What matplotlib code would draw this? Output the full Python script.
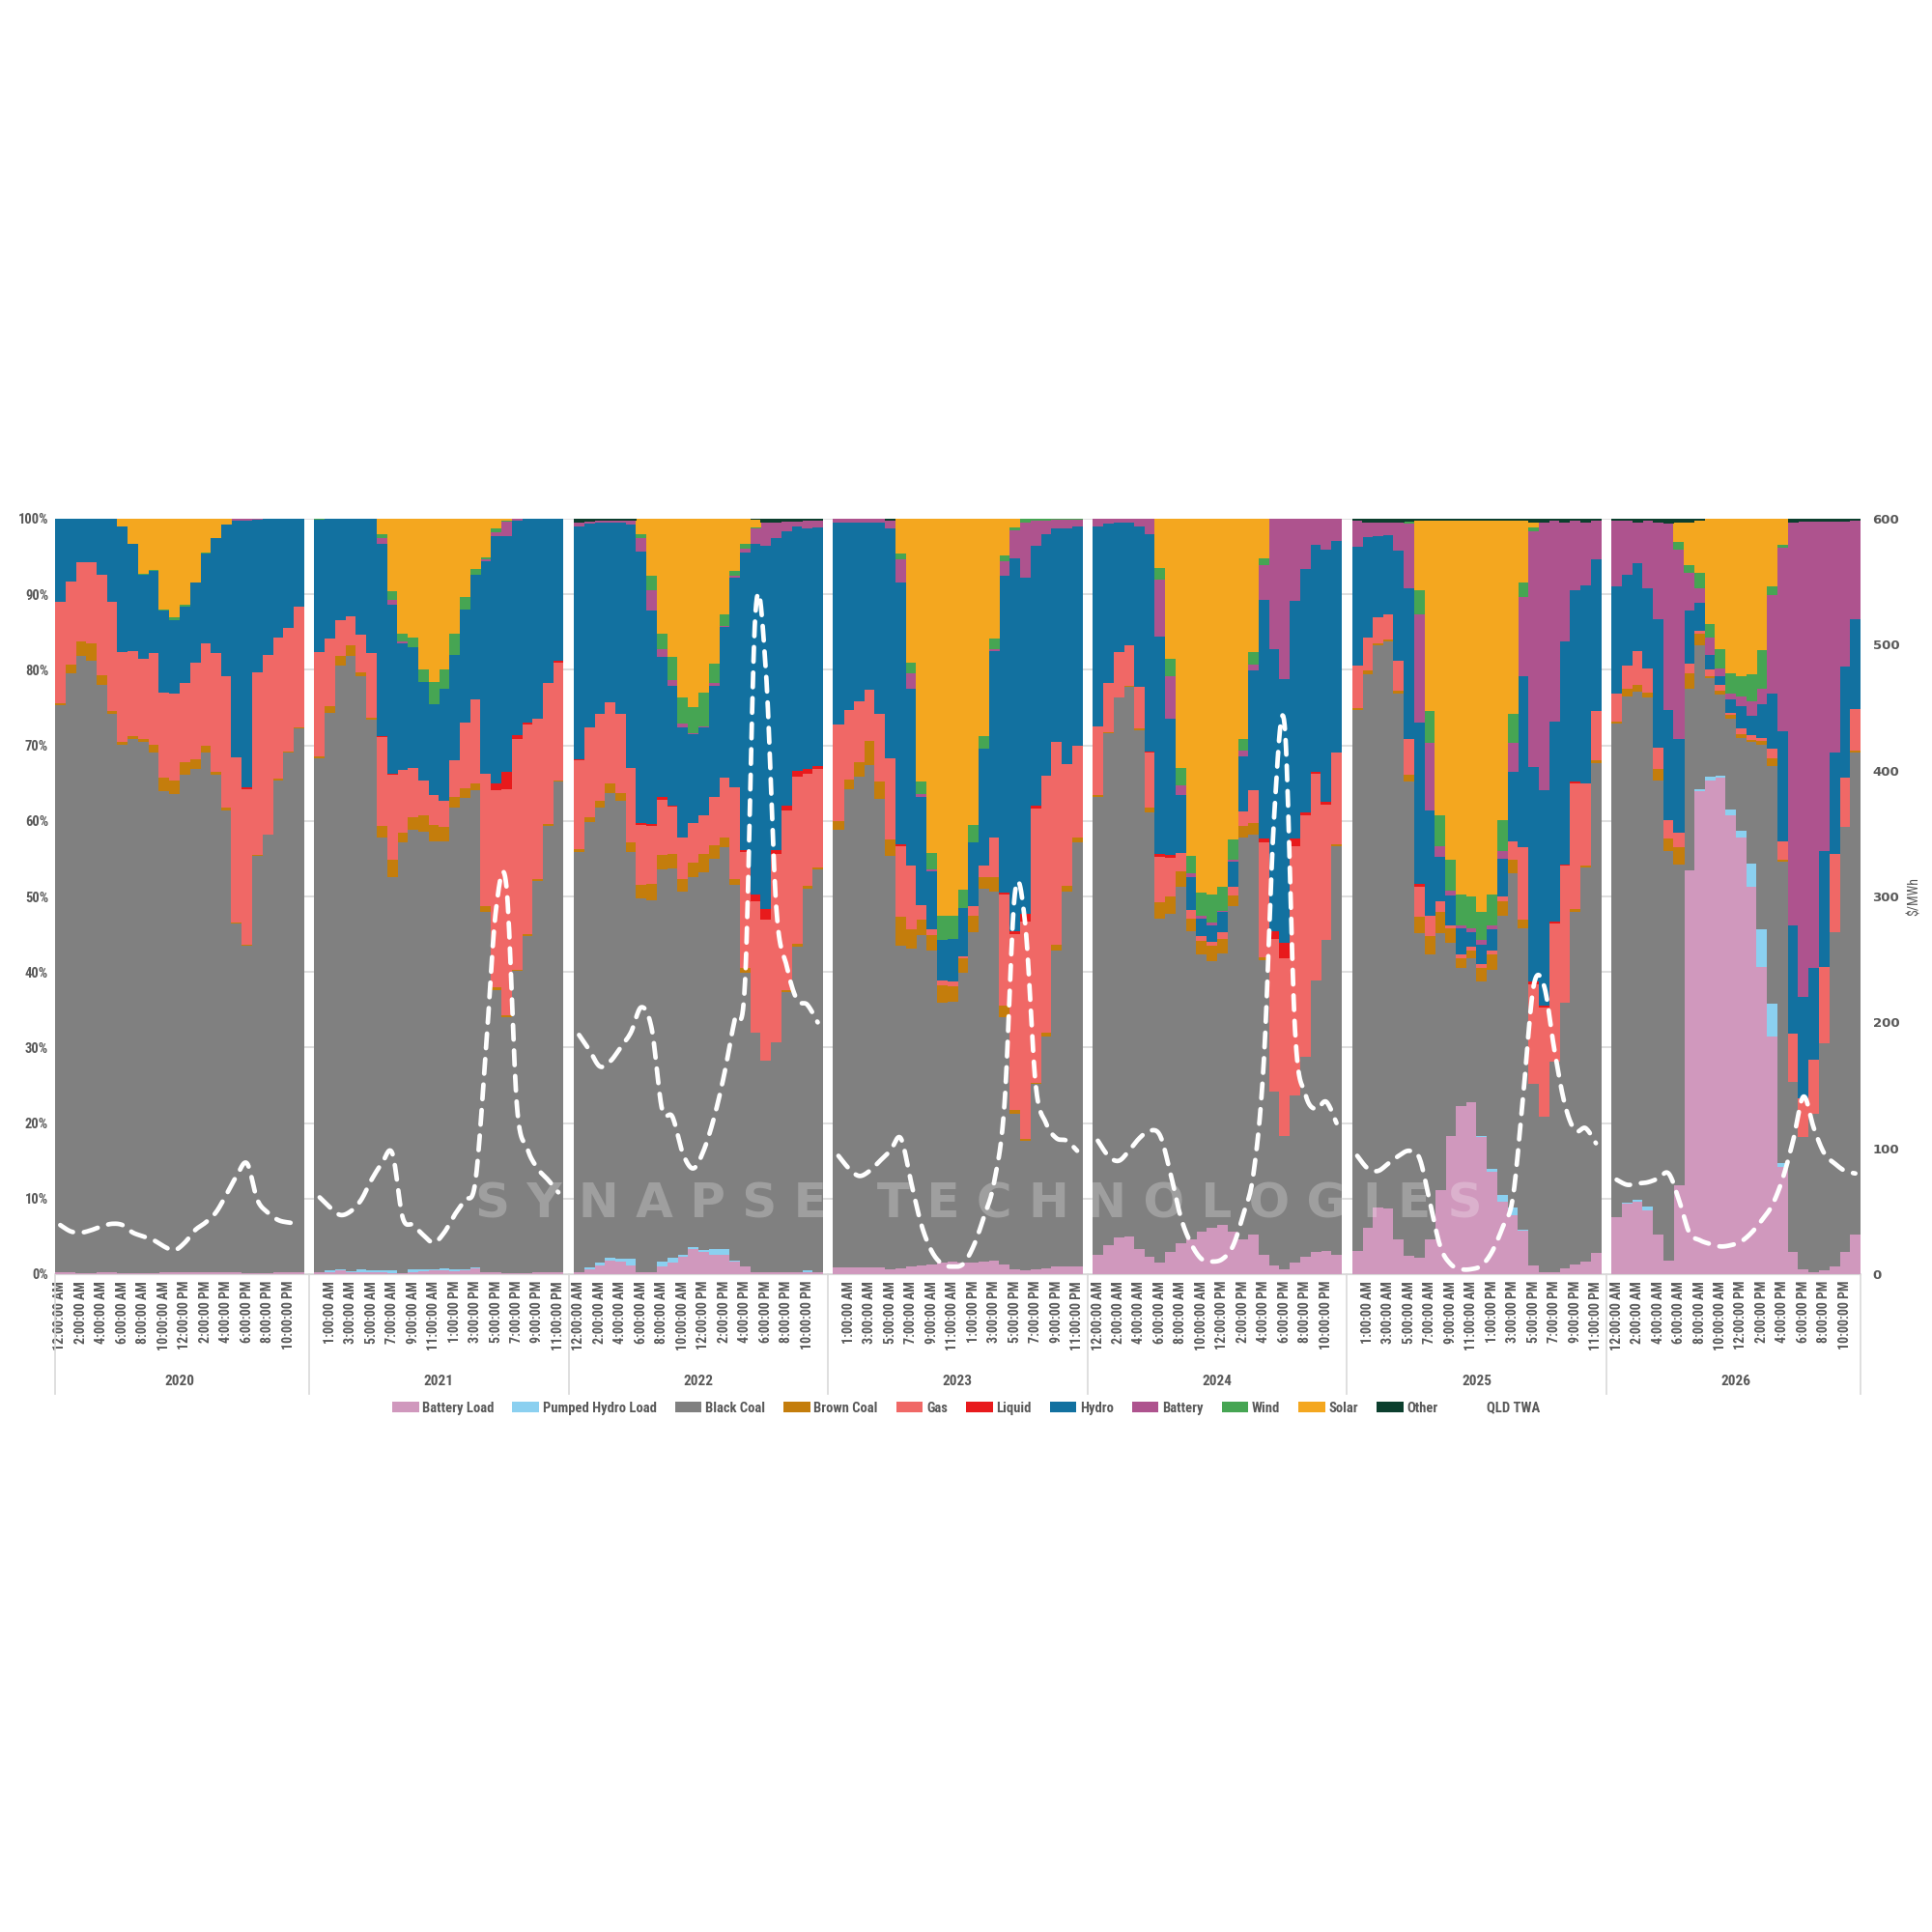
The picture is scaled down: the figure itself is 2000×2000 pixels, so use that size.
import numpy as np
import matplotlib
matplotlib.use("Agg")
import matplotlib.pyplot as plt
from matplotlib.patches import Patch
from matplotlib.lines import Line2D
from matplotlib.transforms import blended_transform_factory

plt.rcParams["font.family"] = ["Roboto Condensed", "DejaVu Sans"]

YEARS = ["2020", "2021", "2022", "2023", "2024", "2025", "2026"]
HOURS = list(range(24))

# share of generation (%) per hour, one list per year (2020 .. 2026)
battery_load = [
    [0.2, 0.2, 0.1, 0.1, 0.3, 0.2, 0.1, 0.1, 0.1, 0.1, 0.3, 0.2, 0.2, 0.2, 0.3, 0.2, 0.2, 0.2, 0.1, 0.1, 0.1, 0.2, 0.2, 0.2],
    [0.3, 0.3, 0.5, 0.3, 0.3, 0.3, 0.2, 0.1, 0.1, 0.3, 0.4, 0.5, 0.5, 0.4, 0.5, 0.8, 0.3, 0.2, 0.1, 0.1, 0.1, 0.2, 0.2, 0.2],
    [0.3, 0.7, 1.2, 1.8, 1.6, 1.1, 0.3, 0.3, 1.0, 1.5, 2.3, 3.3, 2.9, 2.6, 2.6, 1.6, 1.0, 0.3, 0.2, 0.2, 0.2, 0.3, 0.3, 0.3],
    [0.9, 0.9, 0.9, 0.9, 0.9, 0.7, 0.8, 1.0, 1.1, 1.3, 1.5, 1.6, 1.6, 1.5, 1.6, 1.8, 1.3, 0.7, 0.5, 0.7, 0.8, 1.0, 1.0, 1.0],
    [2.6, 3.9, 4.9, 5.0, 3.3, 2.3, 1.5, 2.9, 4.1, 4.6, 5.6, 6.2, 6.5, 5.6, 4.6, 5.2, 2.6, 1.1, 0.7, 1.5, 2.3, 2.9, 3.1, 2.6],
    [3.1, 6.1, 8.8, 8.7, 4.6, 2.4, 2.2, 4.6, 11.1, 18.3, 22.2, 22.7, 18.1, 13.5, 9.6, 7.8, 5.7, 1.1, 0.3, 0.3, 0.8, 1.3, 1.6, 2.8],
    [7.5, 9.3, 9.6, 8.5, 5.2, 1.8, 11.8, 53.4, 63.9, 65.4, 65.7, 60.7, 57.8, 51.3, 40.7, 31.4, 14.2, 2.9, 0.7, 0.3, 0.5, 1.0, 2.9, 5.2],
]
pumped_hydro_load = [
    [0] * 24,
    [0, 0.2, 0.1, 0.1, 0.3, 0.2, 0.3, 0.4, 0, 0.4, 0.3, 0.2, 0.3, 0.3, 0.1, 0.1, 0, 0, 0, 0, 0, 0, 0, 0],
    [0, 0.2, 0.3, 0.4, 0.5, 0.9, 0, 0, 0.7, 0.7, 0.3, 0.3, 0.3, 0.7, 0.7, 0.2, 0, 0, 0, 0, 0, 0, 0.2, 0],
    [0] * 24,
    [0] * 24,
    [0, 0, 0, 0, 0, 0, 0, 0, 0, 0, 0, 0, 0.2, 0.5, 0.9, 1.0, 0.2, 0, 0, 0, 0, 0, 0, 0],
    [0, 0.2, 0.2, 0.5, 0, 0, 0, 0.1, 0.3, 0.4, 0.3, 0.8, 0.9, 3.1, 4.9, 4.4, 0.5, 0, 0, 0, 0, 0, 0, 0],
]
black_coal = [
    [75.1, 79.4, 81.7, 81.1, 77.7, 74.0, 70.0, 70.7, 70.4, 68.9, 63.6, 63.4, 65.9, 66.8, 68.8, 65.9, 61.2, 46.2, 43.4, 55.3, 58.1, 65.2, 68.8, 72.0],
    [68.0, 73.8, 79.9, 81.4, 78.5, 72.9, 57.3, 52.0, 57.0, 58.1, 57.9, 56.6, 56.5, 61.1, 62.5, 63.2, 47.7, 37.4, 33.9, 40.1, 44.7, 51.9, 59.1, 65.0],
    [55.6, 59.0, 60.3, 61.3, 60.5, 54.0, 49.5, 49.2, 51.9, 51.5, 48.1, 49.1, 50.1, 51.7, 53.3, 49.7, 38.9, 31.7, 28.1, 30.5, 37.1, 43.2, 50.7, 53.3],
    [58.0, 63.3, 65.0, 66.5, 62.0, 54.7, 42.7, 42.1, 43.8, 41.6, 34.4, 34.5, 38.4, 43.8, 49.4, 48.9, 32.7, 20.6, 17.1, 24.6, 30.6, 41.8, 49.7, 56.1],
    [60.6, 67.7, 71.4, 72.8, 68.7, 58.8, 45.6, 44.8, 47.2, 40.8, 36.7, 35.2, 36.0, 43.1, 53.2, 53.0, 39.0, 23.1, 17.6, 22.2, 26.5, 36.0, 41.1, 54.1],
    [71.6, 73.3, 74.4, 75.0, 72.3, 62.8, 42.9, 37.7, 34.0, 25.5, 18.3, 19.1, 20.5, 26.3, 37.0, 44.3, 39.9, 24.1, 20.6, 27.8, 35.1, 46.7, 52.2, 64.8],
    [65.4, 67.0, 67.3, 67.4, 60.2, 54.2, 42.4, 24.0, 19.1, 13.1, 10.7, 12.0, 12.4, 16.0, 24.5, 31.5, 39.9, 22.6, 17.5, 20.9, 30.0, 44.3, 56.3, 63.9],
]
brown_coal = [
    [0.3, 1.1, 2.0, 2.3, 1.3, 0.4, 0.3, 0.4, 0.3, 1.1, 1.8, 1.7, 1.7, 1.2, 0.8, 0.4, 0.4, 0.2, 0.1, 0.1, 0.1, 0.2, 0.2, 0.2],
    [0.3, 0.9, 1.3, 1.5, 0.6, 0.3, 1.5, 2.4, 1.4, 1.7, 2.1, 2.2, 1.9, 1.4, 1.2, 0.8, 0.7, 0.4, 0.3, 0.1, 0.2, 0.2, 0.3, 0.2],
    [0.4, 0.7, 0.9, 1.3, 1.1, 1.2, 1.8, 2.1, 1.9, 2.0, 1.6, 1.9, 2.5, 1.8, 1.3, 0.8, 0.6, 0, 0, 0, 0.3, 0.3, 0.3, 0.3],
    [1.1, 1.3, 2.0, 3.2, 2.3, 2.2, 3.8, 2.5, 2.0, 2.0, 2.3, 2.0, 1.9, 2.1, 1.5, 1.8, 1.6, 0.4, 0.3, 0.1, 0.6, 0.8, 0.7, 0.7],
    [0.2, 0.2, 0.1, 0.1, 0.2, 0.7, 2.1, 2.4, 2.0, 1.7, 1.8, 2.1, 1.9, 1.4, 1.5, 1.5, 0.3, 0, 0, 0, 0, 0, 0, 0.2],
    [0.3, 0.5, 0.3, 0.3, 0.4, 0.9, 2.2, 2.5, 2.8, 2.0, 1.3, 1.1, 1.7, 2.0, 1.9, 1.8, 1.1, 0, 0, 0, 0, 0.4, 0.3, 0.4],
    [0.2, 1.0, 0.9, 0.7, 1.5, 1.7, 2.3, 2.0, 1.5, 0.3, 0.6, 0.6, 0.4, 0.3, 0.5, 1.0, 0.3, 0, 0, 0, 0, 0, 0, 0.2],
]
gas = [
    [13.4, 11.0, 10.4, 10.7, 13.3, 14.4, 12.0, 11.3, 10.6, 12.1, 11.3, 11.5, 10.5, 12.8, 13.6, 15.7, 17.4, 21.8, 20.7, 24.2, 23.8, 18.7, 16.3, 16.0],
    [13.8, 8.9, 4.8, 3.8, 4.9, 8.5, 11.8, 11.2, 8.2, 6.5, 4.7, 3.9, 3.5, 4.8, 8.7, 11.2, 17.6, 26.1, 29.9, 30.5, 27.7, 21.2, 18.7, 15.6],
    [11.7, 11.9, 11.5, 10.8, 10.5, 9.9, 8.0, 7.7, 7.3, 6.2, 5.5, 5.2, 5.1, 6.4, 7.9, 12.1, 15.4, 17.3, 18.6, 24.9, 23.8, 22.2, 15.0, 13.0],
    [12.8, 9.3, 8.0, 6.8, 9.0, 10.7, 9.4, 8.5, 2.0, 0.7, 0.7, 0.7, 0.3, 1.3, 1.6, 5.3, 14.7, 23.3, 28.8, 36.4, 34.0, 26.8, 16.1, 12.1],
    [9.1, 6.4, 6.0, 5.3, 5.6, 7.2, 6.0, 5.1, 2.5, 1.1, 0.7, 0.5, 0.9, 1.2, 2.0, 4.4, 15.2, 20.2, 23.5, 33.0, 31.9, 27.3, 18.0, 12.1],
    [5.5, 4.4, 3.4, 3.4, 3.9, 4.8, 4.0, 2.7, 1.4, 0.4, 0.5, 0.4, 0.5, 0.5, 0.7, 2.4, 9.6, 13.2, 14.4, 18.3, 18.2, 16.6, 10.9, 6.5],
    [3.8, 3.1, 4.5, 3.2, 2.8, 2.4, 1.9, 1.3, 0.4, 0.9, 0.7, 0.2, 0.8, 0.7, 0.4, 1.3, 2.4, 6.3, 5.1, 7.2, 10.2, 10.3, 6.5, 5.5],
]
liquid = [
    [0, 0, 0, 0, 0, 0, 0, 0, 0, 0, 0, 0, 0, 0, 0, 0, 0, 0, 0.2, 0, 0, 0, 0, 0],
    [0, 0, 0, 0, 0, 0, 0.1, 0.2, 0, 0, 0, 0, 0, 0, 0, 0, 0, 0.9, 2.3, 0.6, 0.3, 0, 0, 0.2],
    [0.2, 0, 0, 0, 0, 0, 0.2, 0.3, 0.4, 0.2, 0, 0, 0, 0, 0, 0, 0.3, 1.0, 1.5, 0.6, 0.6, 0.7, 0.6, 0.4],
    [0, 0, 0, 0, 0, 0, 0.2, 0, 0, 0, 0, 0, 0, 0, 0, 0, 0.2, 0.5, 1.0, 0.3, 0, 0, 0, 0],
    [0, 0, 0, 0, 0, 0.2, 0.4, 0.3, 0, 0, 0, 0, 0, 0, 0, 0, 0.6, 1.0, 2.1, 1.0, 0.4, 0.3, 0.3, 0],
    [0, 0, 0, 0, 0, 0, 0.3, 0, 0, 0, 0, 0, 0, 0, 0, 0, 0, 0.4, 0.3, 0.3, 0.1, 0.2, 0, 0],
    [0] * 24,
]
hydro = [
    [11.0, 8.3, 5.8, 5.8, 7.4, 11.0, 16.6, 14.2, 11.2, 10.9, 10.8, 9.8, 10.1, 10.6, 11.9, 15.2, 20.0, 31.4, 35.3, 20.3, 18.0, 15.7, 14.5, 11.6],
    [17.5, 15.9, 13.4, 12.9, 15.4, 17.8, 25.5, 22.3, 16.8, 16.0, 13.0, 12.1, 14.8, 14.0, 15.0, 16.5, 28.1, 32.7, 31.3, 28.3, 27.0, 26.5, 21.7, 18.8],
    [30.8, 26.9, 25.3, 23.7, 25.3, 32.2, 36.0, 28.3, 18.6, 15.8, 14.6, 11.8, 11.6, 14.7, 19.9, 27.8, 39.3, 46.4, 48.0, 41.2, 36.4, 32.5, 31.9, 31.6],
    [26.8, 24.8, 23.7, 22.2, 25.3, 30.4, 34.6, 23.4, 14.3, 7.7, 5.3, 5.6, 6.4, 8.5, 15.5, 24.7, 41.9, 49.4, 44.5, 34.5, 32.0, 28.3, 31.2, 29.1],
    [26.5, 21.1, 17.1, 16.3, 21.2, 28.8, 28.8, 18.1, 7.6, 4.4, 2.3, 2.2, 2.6, 3.3, 7.3, 15.8, 31.5, 37.3, 34.9, 31.4, 32.2, 30.1, 33.4, 28.1],
    [15.8, 13.3, 10.8, 10.4, 14.6, 19.9, 21.4, 13.9, 5.9, 3.9, 3.5, 2.0, 2.6, 2.8, 4.9, 9.2, 22.7, 28.3, 28.5, 26.5, 29.5, 25.3, 26.2, 20.1],
    [14.1, 12.0, 11.6, 10.6, 17.0, 14.6, 12.4, 7.1, 3.7, 1.9, 1.1, 1.8, 3.0, 2.5, 4.5, 7.3, 14.6, 14.4, 13.4, 12.1, 15.3, 13.5, 14.7, 11.9],
]
battery = [
    [0, 0, 0, 0, 0, 0, 0, 0, 0, 0, 0, 0, 0, 0, 0, 0, 0, 0.2, 0.3, 0.1, 0, 0, 0, 0],
    [0, 0, 0, 0, 0, 0, 0.7, 0.7, 0.2, 0, 0, 0, 0, 0, 0, 0, 0.2, 0.5, 1.9, 0.3, 0, 0, 0, 0],
    [0.5, 0.3, 0.3, 0.3, 0.3, 0.6, 1.8, 2.6, 1.0, 0.8, 0.5, 0.2, 0.2, 0.4, 0.2, 0.2, 0.5, 2.0, 3.1, 2.1, 1.2, 0.6, 1.0, 0.9],
    [0.5, 0.5, 0.5, 0.5, 0.5, 1.1, 3.1, 2.1, 0.4, 0.3, 0, 0, 0, 0, 0, 0.2, 2.0, 3.7, 7.3, 3.3, 1.8, 1.2, 1.2, 0.9],
    [1.0, 0.7, 0.5, 0.5, 1.0, 2.0, 7.5, 5.6, 1.3, 0.5, 0.3, 0.3, 0.2, 0.3, 0.7, 0.8, 4.7, 17.3, 21.2, 10.9, 6.7, 3.4, 4.1, 2.9],
    [3.4, 1.9, 1.8, 1.7, 3.7, 8.5, 14.3, 8.9, 1.5, 0.7, 0.3, 0.5, 0.6, 0.5, 1.1, 3.8, 10.5, 31.3, 35.4, 26.5, 15.8, 9.2, 8.3, 5.1],
    [8.7, 7.1, 5.4, 8.9, 12.8, 24.6, 25.1, 4.9, 1.9, 2.3, 1.1, 0.8, 1.3, 1.9, 2.0, 13.0, 24.2, 53.3, 63.0, 59.1, 43.6, 30.5, 19.2, 13.0],
]
wind = [
    [0, 0, 0, 0, 0, 0, 0, 0, 0.1, 0.1, 0.2, 0.3, 0.2, 0.1, 0.1, 0, 0, 0, 0, 0, 0, 0, 0, 0],
    [0.1, 0, 0, 0, 0, 0, 0.6, 1.1, 1.1, 1.3, 1.7, 2.9, 2.6, 2.8, 1.7, 0.7, 0.3, 0.5, 0.1, 0, 0, 0, 0, 0],
    [0, 0, 0, 0, 0, 0, 0.6, 2.0, 2.1, 3.1, 3.4, 3.4, 4.4, 2.6, 1.5, 0.7, 0.7, 0.2, 0, 0, 0, 0, 0, 0],
    [0, 0, 0, 0, 0, 0, 0.8, 1.4, 1.6, 2.1, 3.3, 3.1, 2.4, 2.3, 1.6, 1.4, 0.8, 0.4, 0.5, 0.3, 0.2, 0.1, 0.1, 0.1],
    [0, 0, 0, 0, 0, 0, 1.6, 2.3, 2.3, 2.3, 3.1, 3.8, 3.2, 2.6, 1.6, 1.7, 0.9, 0, 0, 0, 0, 0, 0, 0],
    [0, 0, 0, 0, 0, 0.3, 3.2, 4.2, 4.1, 4.0, 4.2, 4.2, 3.8, 4.2, 4.1, 3.9, 1.8, 0.5, 0, 0, 0, 0, 0, 0],
    [0, 0, 0, 0, 0, 0, 1.0, 1.0, 2.0, 1.8, 2.6, 2.6, 2.6, 3.6, 5.1, 1.1, 0.5, 0, 0, 0, 0, 0, 0, 0],
]
solar = [
    [0, 0, 0, 0, 0, 0, 1.0, 3.3, 7.3, 6.8, 12.0, 13.1, 11.4, 8.4, 4.5, 2.6, 0.8, 0, 0, 0, 0, 0, 0, 0],
    [0, 0, 0, 0, 0, 0, 2.0, 9.6, 15.2, 15.7, 19.9, 21.6, 19.9, 15.2, 10.3, 6.7, 5.1, 1.3, 0.3, 0, 0, 0, 0, 0],
    [0, 0, 0, 0, 0, 0, 2.0, 7.5, 15.2, 18.3, 23.7, 25.0, 23.1, 19.2, 12.7, 6.9, 3.3, 1.0, 0, 0, 0, 0, 0, 0],
    [0, 0, 0, 0, 0, 0, 4.6, 19.0, 34.8, 44.3, 52.5, 52.5, 49.2, 40.5, 28.8, 15.9, 4.8, 1.1, 0, 0, 0, 0, 0, 0],
    [0, 0, 0, 0, 0, 0, 6.5, 18.6, 33.0, 44.6, 49.5, 49.7, 48.7, 42.5, 29.1, 17.6, 5.2, 0, 0, 0, 0, 0, 0, 0],
    [0, 0, 0, 0, 0, 0, 9.2, 25.2, 39.0, 45.0, 49.5, 49.8, 51.8, 49.5, 39.7, 25.6, 8.2, 0.6, 0, 0, 0, 0, 0, 0],
    [0, 0, 0, 0, 0, 0, 2.6, 5.7, 7.0, 13.9, 17.2, 20.5, 20.9, 20.6, 17.4, 9.0, 3.4, 0, 0, 0, 0, 0, 0, 0],
]
other = [
    [0] * 24,
    [0] * 24,
    [0.5, 0.4, 0.2, 0.2, 0.2, 0.2, 0, 0, 0, 0, 0, 0, 0, 0, 0, 0, 0, 0.1, 0.5, 0.5, 0.4, 0.4, 0.3, 0.3],
    [0, 0, 0, 0, 0, 0.2, 0, 0, 0, 0, 0, 0, 0, 0, 0, 0, 0, 0, 0, 0, 0, 0, 0, 0],
    [0] * 24,
    [0.3, 0.5, 0.5, 0.5, 0.5, 0.4, 0.3, 0.3, 0.2, 0.2, 0.2, 0.2, 0.2, 0.2, 0.2, 0.2, 0.3, 0.5, 0.5, 0.3, 0.5, 0.3, 0.5, 0.3],
    [0.3, 0.3, 0.5, 0.3, 0.5, 0.7, 0.5, 0.5, 0.2, 0, 0, 0, 0, 0, 0, 0, 0, 0.5, 0.4, 0.4, 0.4, 0.4, 0.4, 0.3],
]

# QLD time-weighted average price, $/MWh
qld_twa = [
    [39, 34, 33, 35, 38, 40, 39, 33, 30, 27, 22, 19, 25, 35, 41, 49, 63, 78, 88, 59, 49, 43, 41, 40],
    [61, 53, 47, 50, 59, 75, 88, 96, 45, 39, 31, 25, 33, 47, 59, 73, 175, 290, 308, 135, 100, 84, 75, 65],
    [190, 178, 165, 169, 180, 192, 212, 195, 131, 125, 96, 84, 98, 124, 159, 202, 233, 525, 480, 292, 245, 218, 214, 200],
    [94, 84, 78, 82, 90, 98, 108, 73, 39, 18, 8, 6, 8, 22, 45, 73, 135, 302, 278, 151, 120, 108, 106, 98],
    [106, 94, 90, 98, 108, 114, 110, 80, 45, 24, 12, 10, 12, 22, 47, 80, 170, 365, 436, 194, 143, 131, 137, 120],
    [94, 84, 82, 88, 94, 98, 92, 57, 22, 8, 4, 4, 7, 18, 37, 61, 143, 229, 229, 178, 135, 114, 116, 104],
    [75, 71, 72, 73, 76, 80, 59, 33, 27, 24, 22, 23, 26, 33, 43, 55, 76, 106, 141, 116, 96, 88, 82, 80],
]

SERIES = [
    ("Battery Load", battery_load, "#D098BD"),
    ("Pumped Hydro Load", pumped_hydro_load, "#8BD0F0"),
    ("Black Coal", black_coal, "#808080"),
    ("Brown Coal", brown_coal, "#C47D0C"),
    ("Gas", gas, "#F06866"),
    ("Liquid", liquid, "#E81A1C"),
    ("Hydro", hydro, "#1271A0"),
    ("Battery", battery, "#AE538E"),
    ("Wind", wind, "#46A553"),
    ("Solar", solar, "#F4A71F"),
    ("Other", other, "#0C3F2E"),
]

TEXT_COLOR = "#595959"
GRID_COLOR = "#D9D9D9"
SLOT = 25  # 24 hours + one empty category between years


def hour_label(h):
    h12 = h % 12 or 12
    return f"{h12}:00:00 {'AM' if h < 12 else 'PM'}"


def smooth_line(x, y, steps=16):
    # Catmull-Rom through the hourly points, like Excel's smoothed line
    pts = np.column_stack([x, y]).astype(float)
    pts = np.vstack([pts[0], pts, pts[-1]])
    out = []
    t = np.linspace(0, 1, steps)[:, None]
    for i in range(1, len(pts) - 2):
        p0, p1, p2, p3 = pts[i - 1], pts[i], pts[i + 1], pts[i + 2]
        seg = 0.5 * (2 * p1 + (-p0 + p2) * t + (2 * p0 - 5 * p1 + 4 * p2 - p3) * t ** 2
                     + (-p0 + 3 * p1 - 3 * p2 + p3) * t ** 3)
        out.append(seg if i == 1 else seg[1:])
    out = np.vstack(out)
    return out[:, 0], out[:, 1]


fig = plt.figure(figsize=(20, 20), dpi=100)
ax = fig.add_axes([0.0285, 0.3405, 0.9345, 0.391])

for yi in range(len(YEARS)):
    x = np.array(HOURS) + yi * SLOT
    raw = np.array([s[1][yi] for s in SERIES], dtype=float)
    shares = raw / raw.sum(axis=0) * 100
    bottom = np.zeros(24)
    for (name, _, color), vals in zip(SERIES, shares):
        ax.bar(x, vals, bottom=bottom, width=1.03, color=color, linewidth=0,
               antialiased=False, zorder=2)
        bottom += vals

ax.set_xlim(-0.5, SLOT * len(YEARS) - 1.5)
ax.set_ylim(0, 100)
ax.set_yticks(range(0, 101, 10))
ax.set_yticklabels([f"{v}%" for v in range(0, 101, 10)], fontsize=10.5,
                   fontweight="bold", color=TEXT_COLOR)
ax.yaxis.grid(True, color=GRID_COLOR, linewidth=1.2, zorder=0)
ax.set_axisbelow(True)
for side in ["top", "right", "left"]:
    ax.spines[side].set_visible(False)
ax.spines["bottom"].set_color(GRID_COLOR)
ax.tick_params(axis="both", length=0)
ax.tick_params(axis="y", pad=5)

tick_pos, tick_lab = [], []
for yi in range(len(YEARS)):
    for h in HOURS:
        pos = yi * SLOT + h
        if pos % 2 == 0:
            tick_pos.append(pos)
            tick_lab.append(hour_label(h))
ax.set_xticks(tick_pos)
ax.set_xticklabels(tick_lab, rotation=90, fontsize=10, fontweight="bold",
                   color=TEXT_COLOR, va="top", ha="center")
ax.tick_params(axis="x", pad=5)

trans = blended_transform_factory(ax.transData, ax.transAxes)
for yi, year in enumerate(YEARS):
    ax.text(yi * SLOT + 11.5, -0.142, year, transform=trans, ha="center",
            va="center", fontsize=11, fontweight="bold", color=TEXT_COLOR)
sep_x = [-0.5] + [yi * SLOT - 1 for yi in range(1, len(YEARS))] + [SLOT * len(YEARS) - 1.5]
for sx in sep_x:
    ax.plot([sx, sx], [0, -0.158], transform=trans, color=GRID_COLOR,
            linewidth=1.2, clip_on=False, zorder=1)

ax.text(88.5, 9.3, "S Y N A P S E   T E C H N O L O G I E S", ha="center",
        va="center", fontsize=36, fontweight="bold", color="white", alpha=0.25,
        family="DejaVu Sans", zorder=10)

ax2 = ax.twinx()
ax2.set_ylim(0, 600)
ax2.set_yticks(range(0, 601, 100))
ax2.set_yticklabels([str(v) for v in range(0, 601, 100)], fontsize=9.5,
                    fontweight="bold", color=TEXT_COLOR, family="DejaVu Sans")
ax2.tick_params(axis="y", length=0, pad=9)
for side in ["top", "right", "left", "bottom"]:
    ax2.spines[side].set_visible(False)
ax2.set_ylabel("$/MWh", fontsize=10, color=TEXT_COLOR, labelpad=6)

for yi in range(len(YEARS)):
    x = np.array(HOURS) + yi * SLOT
    sx, sy = smooth_line(x, qld_twa[yi])
    ax2.plot(sx, sy, color="white", linewidth=3.4, linestyle=(0, (3.2, 2.4)),
             dash_capstyle="round", zorder=5)

handles = [Patch(facecolor=c, edgecolor="none") for _, _, c in SERIES]
handles.append(Line2D([0], [0], color="white", linewidth=3, linestyle="--"))
labels = [n for n, _, _ in SERIES] + ["QLD TWA"]
leg = fig.legend(handles, labels, loc="center", bbox_to_anchor=(0.5, 0.2712),
                 ncol=12, frameon=False, fontsize=10.5, handlelength=1.9,
                 handleheight=0.75, handletextpad=0.25, columnspacing=1.3)
for t in leg.get_texts():
    t.set_color(TEXT_COLOR)
    t.set_fontweight("bold")

fig.savefig("out.png", dpi=100, facecolor="white")
